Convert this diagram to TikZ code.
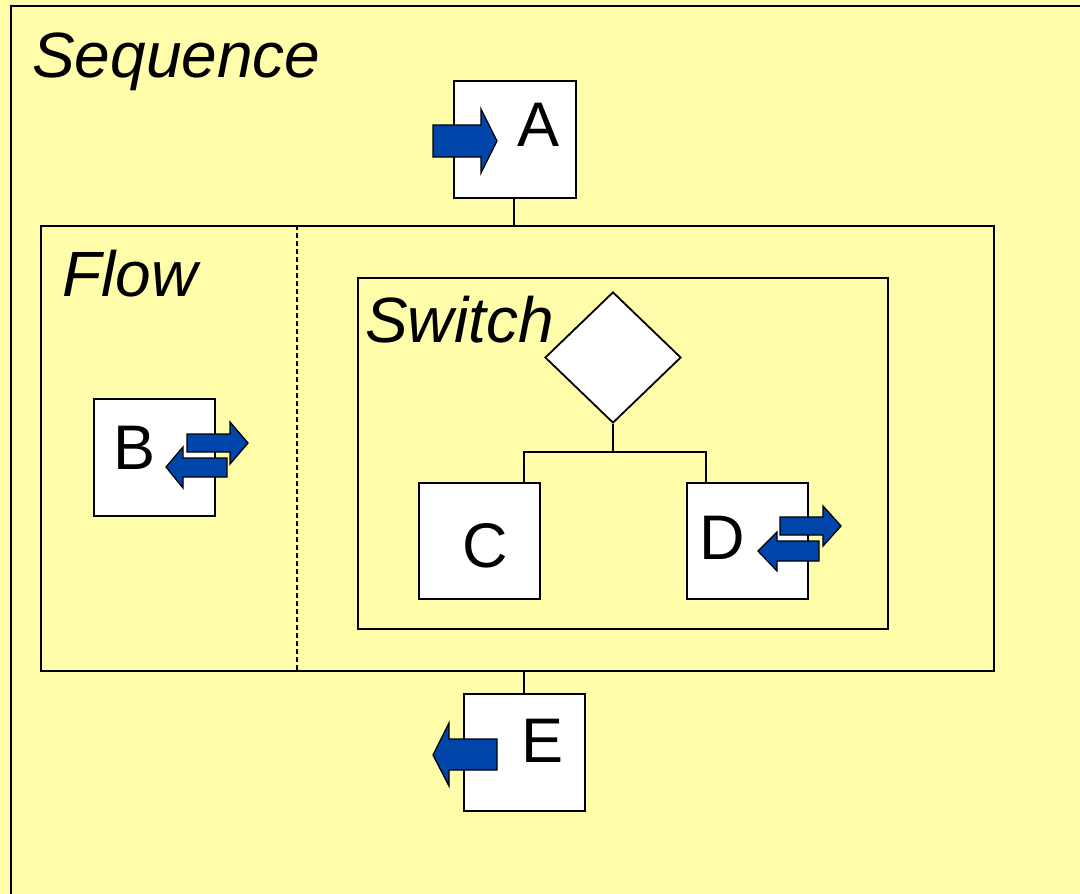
\documentclass[tikz,border=0pt]{standalone}
\usepackage{fontspec}
\setmainfont{Liberation Sans}
\usetikzlibrary{shapes.geometric}
\definecolor{bgyellow}{RGB}{255,252,170}
\definecolor{arrowblue}{RGB}{0,70,170}
\tikzset{
  box/.style={draw=black, line width=1.8pt, fill=white, anchor=north west, inner sep=0pt},
  container/.style={draw=black, line width=1.8pt, anchor=north west, inner sep=0pt},
  title/.style={font=\fontsize{64}{64}\selectfont\itshape, anchor=base west, inner sep=0pt},
  letter/.style={font=\fontsize{63}{63}\selectfont, inner sep=0pt},
  wire/.style={draw=black, line width=2.2pt},
  icon/.style={draw=black, line width=1.3pt, fill=arrowblue, line join=miter}
}
% right-pointing block arrow: body left x, head start x, tip x, centre y, half body, half head
\newcommand{\rblock}[6]{\path[icon] (#1,#4-#5) -- (#2,#4-#5) -- (#2,#4-#6) -- (#3,#4) -- (#2,#4+#6) -- (#2,#4+#5) -- (#1,#4+#5) -- cycle;}
\begin{document}
\begin{tikzpicture}[x=1pt,y=-1pt]
\fill[bgyellow] (0,0) rectangle (1080,894);
\useasboundingbox (0,0) rectangle (1080,894);
\clip (0,0) rectangle (1080,894);
% Sequence container
\node[container, minimum width=1100pt, minimum height=920pt] (seq) at (10,5) {};
\node[title] (seqlbl) at (32,77) {Sequence};
% A
\node[box, minimum width=122pt, minimum height=117pt] (A) at (453,80) {};
\node[letter] (Albl) at (539,125) {A};
\rblock{433}{481}{497}{141}{16}{32}
% Flow
\node[container, minimum width=953pt, minimum height=445pt] (flow) at (40,225) {};
\node[title] (flowlbl) at (62,296) {Flow};
\coordinate (dtop) at (297,225);
\coordinate (dbot) at (297,670);
\draw[black, line width=1.4pt, dash pattern=on 5pt off 3pt] (dtop) -- (dbot);
\draw[wire] (A.south -| 514,0) -- (514,225);
% B
\node[box, minimum width=121pt, minimum height=117pt] (B) at (93,398) {};
\node[letter] (Blbl) at (135,448) {B};
\rblock{187}{230}{248}{443}{9}{21}
\path[icon] (227,458) -- (183,458) -- (183,447) -- (166,467) -- (183,488) -- (183,477) -- (227,477) -- cycle;
% Switch
\node[container, minimum width=530pt, minimum height=351pt] (switch) at (357,277) {};
\node[title] (switchlbl) at (365,342) {Switch};
\node[draw=black, line width=1.8pt, fill=white, diamond, minimum width=136pt, minimum height=131pt, inner sep=0pt, aspect=1.04] (dia) at (613,357.5) {};
% C and D
\node[box, minimum width=121pt, minimum height=116pt] (C) at (418,482) {};
\node[letter] (Clbl) at (485,546) {C};
\node[box, minimum width=121pt, minimum height=116pt] (D) at (686,482) {};
\node[letter] (Dlbl) at (722,538) {D};
\coordinate (split) at (613,452);
\draw[wire] (dia.south) -- (split);
\draw[wire] (524,482) -- (524,452) -- (706,452) -- (706,482);
\rblock{780}{823}{841}{526}{9}{20}
\path[icon] (819,541) -- (777,541) -- (777,532) -- (758,551) -- (777,571) -- (777,561) -- (819,561) -- cycle;
% E
\node[box, minimum width=121pt, minimum height=117pt] (E) at (463,693) {};
\node[letter] (Elbl) at (543,741) {E};
\draw[wire] (524,670) -- (524,693);
\path[icon] (497,739) -- (449,739) -- (449,723) -- (433,755) -- (449,786) -- (449,770) -- (497,770) -- cycle;
\end{tikzpicture}
\end{document}
